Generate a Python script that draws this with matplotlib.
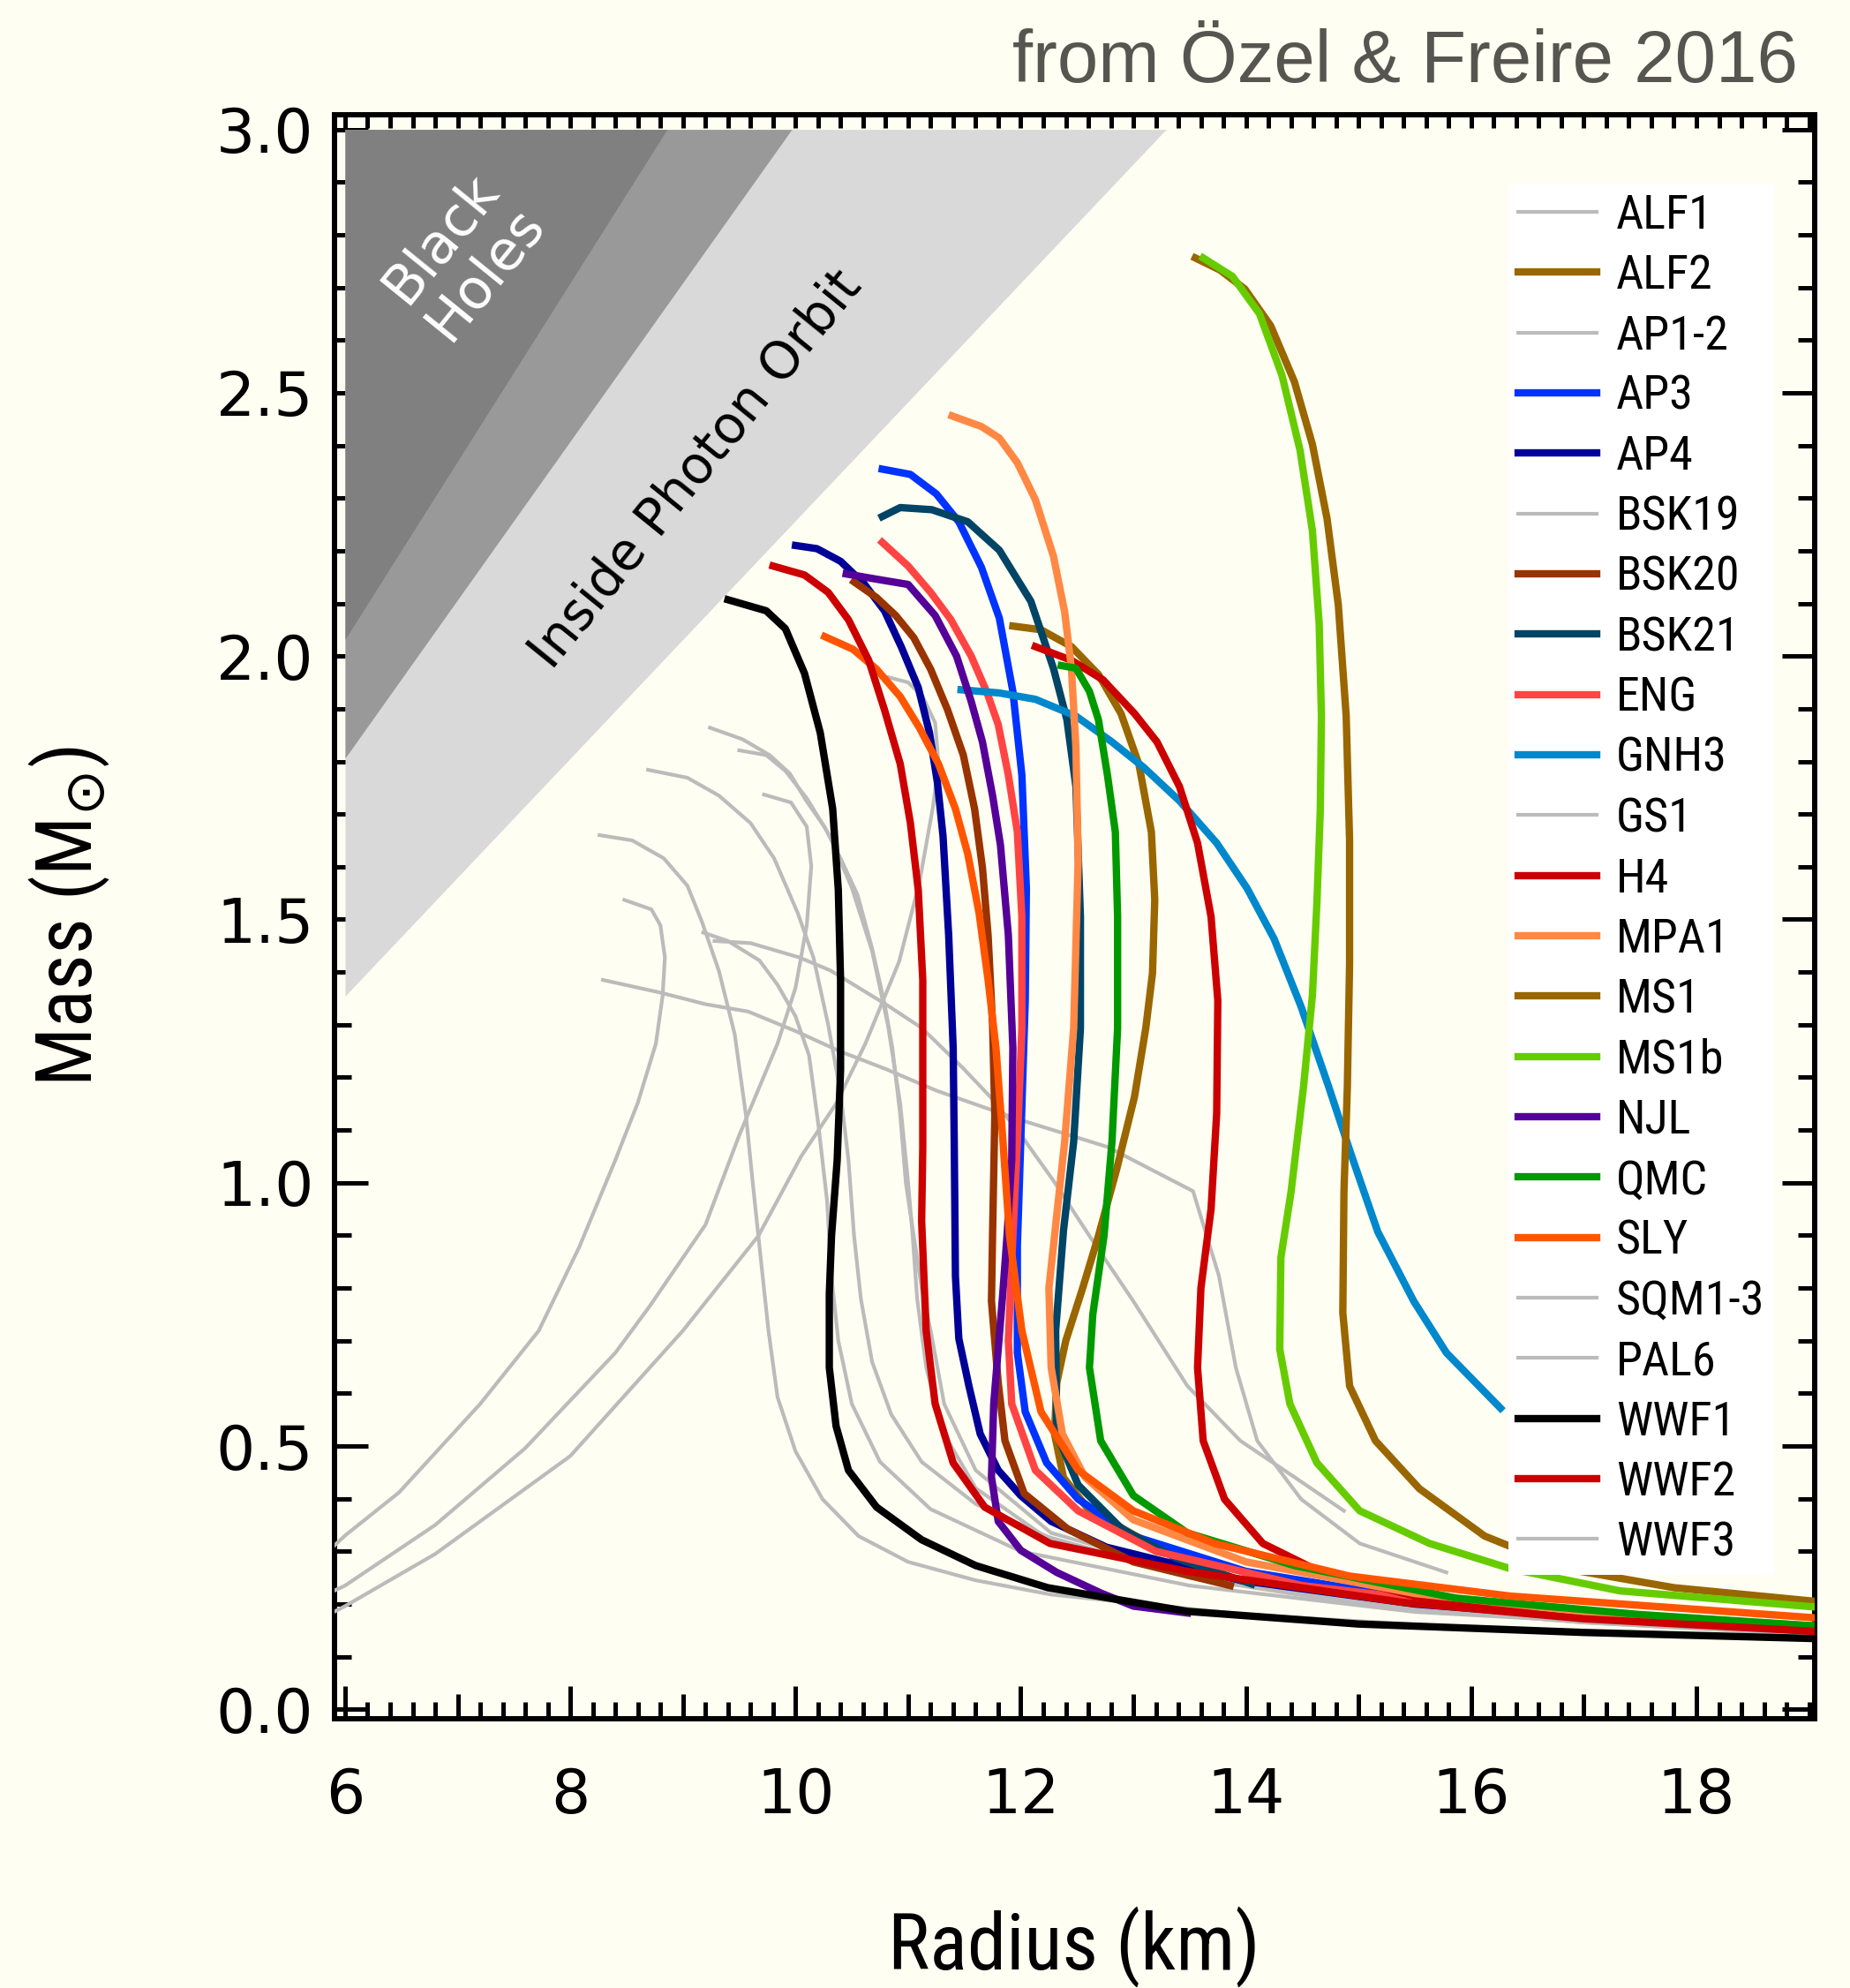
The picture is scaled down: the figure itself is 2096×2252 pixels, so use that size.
import numpy as np
import matplotlib
matplotlib.use('Agg')
import matplotlib.pyplot as plt
from matplotlib import font_manager
from matplotlib.ticker import MultipleLocator, FormatStrFormatter

# ---- data: (radius km, mass Msun) ----
alf1 = [(9.18, 1.475), (9.40, 1.459), (9.68, 1.422), (9.84, 1.376), (10.0, 1.316), (10.12, 1.242),
        (10.20, 1.115), (10.28, 0.966), (10.32, 0.82), (10.38, 0.70), (10.50, 0.58), (10.75, 0.47),
        (11.2, 0.38), (12.0, 0.30), (13.5, 0.235), (15.5, 0.185), (19.3, 0.14)]
ap1 = [(8.26, 1.66), (8.55, 1.65), (8.83, 1.616), (9.04, 1.564), (9.17, 1.495), (9.32, 1.402),
       (9.46, 1.282), (9.56, 1.128), (9.62, 1.0), (9.67, 0.899), (9.76, 0.719), (9.84, 0.593),
       (10.0, 0.49), (10.24, 0.399), (10.56, 0.329), (11.0, 0.28), (11.60, 0.245), (12.27, 0.218),
       (14.0, 0.18), (16.0, 0.155), (19.3, 0.132)]
ap2 = [(8.69, 1.784), (9.04, 1.769), (9.32, 1.735), (9.60, 1.683), (9.81, 1.616), (10.02, 1.512),
       (10.16, 1.427), (10.29, 1.30), (10.40, 1.17), (10.47, 1.043), (10.52, 0.899), (10.58, 0.78),
       (10.68, 0.66), (10.85, 0.56), (11.12, 0.47), (11.6, 0.39), (12.27, 0.325), (13.5, 0.255),
       (15.0, 0.20), (17.0, 0.165), (19.3, 0.138)]
bsk19 = [(9.24, 1.864), (9.53, 1.842), (9.77, 1.812), (9.95, 1.777), (10.09, 1.727), (10.26, 1.675),
         (10.40, 1.616), (10.55, 1.547), (10.68, 1.445), (10.79, 1.341), (10.86, 1.256), (10.93, 1.128),
         (10.98, 0.999), (11.05, 0.899), (11.12, 0.80), (11.2, 0.719), (11.32, 0.58), (11.6, 0.454),
         (12.27, 0.335), (13.5, 0.26), (15.0, 0.205), (17.0, 0.17), (19.3, 0.142)]
gs1 = [(9.28, 1.459), (9.6, 1.455), (10.03, 1.428), (10.31, 1.403), (10.80, 1.339), (11.12, 1.294),
       (11.49, 1.217), (11.73, 1.163), (11.97, 1.10), (12.29, 1.004), (12.61, 0.899), (13.0, 0.775),
       (13.48, 0.614), (13.95, 0.51), (14.43, 0.441), (14.87, 0.377)]
sqm1 = [(5.9, 0.31), (6.0, 0.33), (6.48, 0.412), (7.20, 0.58), (7.72, 0.719), (8.08, 0.878),
        (8.40, 1.043), (8.60, 1.152), (8.76, 1.264), (8.82, 1.355), (8.84, 1.428), (8.80, 1.489),
        (8.72, 1.519), (8.48, 1.537)]
sqm2 = [(5.9, 0.225), (6.0, 0.235), (6.80, 0.35), (7.60, 0.496), (8.40, 0.677), (8.70, 0.764),
        (9.20, 0.92), (9.5, 1.09), (9.84, 1.264), (10.0, 1.37), (10.10, 1.489), (10.14, 1.601),
        (10.10, 1.676), (9.96, 1.722), (9.72, 1.737)]
sqm3 = [(5.9, 0.185), (6.0, 0.196), (6.8, 0.295), (8.0, 0.481), (9.0, 0.719), (9.67, 0.899),
        (10.05, 1.05), (10.36, 1.15), (10.62, 1.264), (10.92, 1.42), (11.1, 1.57), (11.22, 1.713),
        (11.27, 1.795), (11.24, 1.873), (11.13, 1.923), (11.0, 1.95), (10.82, 1.96)]
pal6 = [(8.29, 1.385), (8.80, 1.361), (9.20, 1.339), (9.58, 1.325), (10.0, 1.288), (10.40, 1.249),
        (10.80, 1.216), (11.25, 1.175), (11.97, 1.121), (12.77, 1.068), (13.53, 0.984), (13.76, 0.823),
        (13.91, 0.649), (14.10, 0.51), (14.49, 0.399), (15.01, 0.315), (15.78, 0.26)]
wwf3 = [(9.50, 1.821), (9.74, 1.812), (9.91, 1.782), (10.10, 1.73), (10.30, 1.66), (10.50, 1.56),
        (10.68, 1.44), (10.82, 1.30), (10.93, 1.15), (11.0, 1.0), (11.04, 0.9), (11.08, 0.78),
        (11.16, 0.65), (11.3, 0.53), (11.6, 0.42), (12.2, 0.33), (13.5, 0.25), (15.0, 0.20),
        (17.0, 0.165), (19.3, 0.14)]

alf2 = [(11.93, 2.057), (12.18, 2.05), (12.45, 2.018), (12.69, 1.965), (12.89, 1.891), (13.05, 1.794),
        (13.16, 1.666), (13.19, 1.537), (13.17, 1.398), (13.11, 1.293), (13.01, 1.163), (12.85, 1.024),
        (12.69, 0.899), (12.55, 0.80), (12.40, 0.70), (12.32, 0.62), (12.30, 0.523), (12.38, 0.44),
        (12.6, 0.38), (13.1, 0.32), (14.0, 0.26), (15.5, 0.21), (17.0, 0.18), (19.3, 0.155)]
ap3 = [(10.77, 2.355), (11.02, 2.345), (11.25, 2.308), (11.45, 2.255), (11.65, 2.169), (11.81, 2.072),
       (11.93, 1.933), (12.01, 1.774), (12.05, 1.559), (12.04, 1.346), (12.0, 1.078), (11.97, 0.88),
       (11.97, 0.677), (12.04, 0.565), (12.23, 0.468), (12.51, 0.399), (13.0, 0.329), (14.0, 0.262),
       (15.5, 0.21), (17.0, 0.18), (19.3, 0.152)]
ap4 = [(10.0, 2.21), (10.19, 2.204), (10.40, 2.18), (10.61, 2.137), (10.79, 2.086), (10.94, 2.017),
       (11.09, 1.94), (11.19, 1.854), (11.26, 1.76), (11.31, 1.658), (11.36, 1.47), (11.40, 1.256),
       (11.41, 1.066), (11.42, 0.823), (11.45, 0.704), (11.54, 0.614), (11.64, 0.523), (11.80, 0.454),
       (12.0, 0.406), (12.27, 0.357), (12.76, 0.308), (13.95, 0.245), (15.5, 0.20), (17.0, 0.175),
       (19.3, 0.15)]
bsk20 = [(10.52, 2.141), (10.72, 2.111), (10.89, 2.077), (11.05, 2.035), (11.20, 1.975), (11.35, 1.898),
         (11.49, 1.812), (11.59, 1.71), (11.66, 1.598), (11.71, 1.47), (11.75, 1.30), (11.77, 1.128),
         (11.75, 0.905), (11.74, 0.775), (11.80, 0.62), (11.86, 0.51), (12.03, 0.41), (12.42, 0.342),
         (13.0, 0.28), (13.86, 0.235)]
bsk21 = [(10.77, 2.265), (10.93, 2.282), (11.21, 2.278), (11.53, 2.255), (11.81, 2.201), (12.09, 2.104),
         (12.29, 1.977), (12.41, 1.879), (12.49, 1.752), (12.53, 1.505), (12.53, 1.293), (12.47, 1.078),
         (12.38, 0.91), (12.31, 0.719), (12.32, 0.523), (12.51, 0.426), (12.90, 0.342), (13.38, 0.287),
         (14.05, 0.238)]
eng = [(10.77, 2.216), (11.0, 2.171), (11.20, 2.121), (11.38, 2.069), (11.56, 2.0), (11.70, 1.931),
       (11.80, 1.87), (11.89, 1.774), (11.97, 1.666), (12.01, 1.505), (12.01, 1.293), (11.97, 1.078),
       (11.92, 0.85), (11.89, 0.70), (11.92, 0.58), (12.13, 0.454), (12.51, 0.377), (13.2, 0.30),
       (14.5, 0.235), (16.5, 0.185), (19.3, 0.15)]
gnh3 = [(11.47, 1.936), (11.81, 1.93), (12.13, 1.918), (12.49, 1.886), (12.81, 1.837), (13.09, 1.789),
        (13.41, 1.725), (13.74, 1.645), (14.01, 1.559), (14.25, 1.463), (14.49, 1.334), (14.73, 1.185),
        (14.93, 1.056), (15.17, 0.907), (15.49, 0.775), (15.78, 0.677), (16.26, 0.572)]
h4 = [(12.13, 2.018), (12.45, 1.992), (12.73, 1.955), (13.01, 1.891), (13.21, 1.837), (13.41, 1.752),
      (13.57, 1.645), (13.69, 1.505), (13.75, 1.346), (13.74, 1.132), (13.69, 0.95), (13.60, 0.80),
      (13.57, 0.649), (13.62, 0.51), (13.81, 0.399), (14.15, 0.315), (14.67, 0.26), (15.5, 0.215),
      (17.0, 0.18), (19.3, 0.15)]
mpa1 = [(11.39, 2.456), (11.65, 2.436), (11.81, 2.414), (11.97, 2.367), (12.13, 2.297), (12.29, 2.19),
        (12.39, 2.084), (12.45, 1.977), (12.49, 1.827), (12.51, 1.613), (12.47, 1.293), (12.39, 1.078),
        (12.30, 0.899), (12.25, 0.80), (12.27, 0.649), (12.37, 0.523), (12.57, 0.441), (13.0, 0.36),
        (14.0, 0.28), (15.5, 0.22), (17.0, 0.185), (19.3, 0.155)]
ms1 = [(13.55, 2.756), (13.77, 2.733), (13.99, 2.697), (14.22, 2.627), (14.43, 2.521), (14.59, 2.402),
       (14.72, 2.261), (14.82, 2.097), (14.89, 1.886), (14.92, 1.65), (14.92, 1.415), (14.90, 1.18),
       (14.87, 0.982), (14.86, 0.753), (14.92, 0.614), (15.15, 0.51), (15.54, 0.419), (16.12, 0.329),
       (16.84, 0.267), (17.80, 0.231), (19.3, 0.20)]
ms1b = [(13.62, 2.756), (13.88, 2.721), (14.12, 2.65), (14.32, 2.533), (14.48, 2.391), (14.59, 2.238),
        (14.65, 2.062), (14.67, 1.886), (14.66, 1.708), (14.63, 1.532), (14.59, 1.356), (14.51, 1.18),
        (14.40, 0.982), (14.31, 0.858), (14.30, 0.684), (14.39, 0.58), (14.63, 0.468), (15.01, 0.377),
        (15.63, 0.315), (16.35, 0.267), (17.32, 0.225), (19.3, 0.19)]
njl = [(10.45, 2.156), (10.72, 2.146), (11.0, 2.136), (11.24, 2.077), (11.43, 2.0), (11.56, 1.914),
       (11.66, 1.837), (11.75, 1.735), (11.82, 1.641), (11.89, 1.47), (11.93, 1.256), (11.92, 1.043),
       (11.88, 0.905), (11.84, 0.788), (11.76, 0.58), (11.74, 0.441), (11.80, 0.357), (12.0, 0.302),
       (12.32, 0.26), (12.71, 0.221), (13.0, 0.196), (13.48, 0.183)]
qmc = [(12.36, 1.982), (12.49, 1.977), (12.61, 1.933), (12.69, 1.879), (12.77, 1.774), (12.84, 1.666),
       (12.86, 1.505), (12.86, 1.293), (12.81, 1.078), (12.74, 0.90), (12.64, 0.75), (12.61, 0.649),
       (12.71, 0.51), (13.0, 0.406), (13.48, 0.335), (14.43, 0.273), (15.87, 0.211), (17.5, 0.18),
       (19.3, 0.155)]
sly = [(10.26, 2.037), (10.51, 2.013), (10.72, 1.975), (10.93, 1.923), (11.10, 1.864), (11.27, 1.795),
       (11.42, 1.71), (11.53, 1.624), (11.63, 1.512), (11.71, 1.385), (11.78, 1.256), (11.84, 1.085),
       (11.90, 0.90), (12.01, 0.719), (12.18, 0.565), (12.51, 0.454), (13.0, 0.377), (13.72, 0.315),
       (14.92, 0.253), (16.35, 0.215), (19.3, 0.17)]
wwf1 = [(9.40, 2.107), (9.74, 2.086), (9.91, 2.052), (10.08, 1.967), (10.22, 1.854), (10.33, 1.71),
        (10.38, 1.556), (10.40, 1.385), (10.40, 1.214), (10.37, 1.043), (10.32, 0.90), (10.30, 0.788),
        (10.30, 0.649), (10.36, 0.538), (10.47, 0.454), (10.72, 0.384), (11.12, 0.322), (11.60, 0.273),
        (12.24, 0.231), (13.48, 0.186), (15.0, 0.162), (17.0, 0.146), (19.3, 0.133)]
wwf2 = [(9.80, 2.171), (10.08, 2.154), (10.29, 2.121), (10.47, 2.069), (10.65, 1.992), (10.79, 1.898),
        (10.93, 1.795), (11.02, 1.683), (11.09, 1.556), (11.13, 1.385), (11.13, 1.214), (11.13, 1.066),
        (11.12, 0.927), (11.16, 0.719), (11.24, 0.58), (11.40, 0.468), (11.68, 0.384), (12.26, 0.315),
        (13.48, 0.262), (15.40, 0.203), (17.0, 0.172), (19.3, 0.145)]

legend_order = ['ALF1', 'ALF2', 'AP1-2', 'AP3', 'AP4', 'BSK19', 'BSK20', 'BSK21', 'ENG', 'GNH3',
                'GS1', 'H4', 'MPA1', 'MS1', 'MS1b', 'NJL', 'QMC', 'SLY', 'SQM1-3', 'PAL6',
                'WWF1', 'WWF2', 'WWF3']

GREY = '#BBBBBB'
BG = '#FFFEF2'

names = {f.name for f in font_manager.fontManager.ttflist}
narrow = next((n for n in ['Liberation Sans Narrow', 'Roboto Condensed', 'DejaVu Sans Condensed',
                           'Open Sans Condensed'] if n in names), 'DejaVu Sans')

plt.rcParams['font.family'] = 'DejaVu Sans'
plt.rcParams['mathtext.fontset'] = 'dejavusans'

fig = plt.figure(figsize=(20.96, 22.52), dpi=100, facecolor=BG)
ax = fig.add_axes([0.1808, 0.1354, 0.8001, 0.8069])
ax.set_facecolor(BG)

# forbidden regions: photon orbit, Buchdahl limit, black holes
r = np.linspace(6, 13.6, 400)
ax.fill_between(r, np.minimum(r / 4.43, 3.0), 3.0, color='#D9D9D9', lw=0, zorder=3)
ax.fill_between(r, np.minimum(r / 3.322, 3.0), 3.0, color='#999999', lw=0, zorder=3)
ax.fill_between(r, np.minimum(r / 2.953, 3.0), 3.0, color='#808080', lw=0, zorder=3)

ax.text(7.05, 2.76, 'Black\nHoles', rotation=51, ha='center', va='center', color='white',
        fontsize=45, linespacing=1.1, zorder=3.5)
ax.text(9.12, 2.353, 'Inside Photon Orbit', rotation=51, ha='center', va='center', color='black',
        fontsize=42, zorder=3.5)

grey_curves = [('ALF1', alf1), ('AP1-2', ap1), (None, ap2), ('BSK19', bsk19), ('GS1', gs1),
               ('SQM1-3', sqm1), (None, sqm2), (None, sqm3), ('PAL6', pal6), ('WWF3', wwf3)]
colour_curves = [('ALF2', alf2, '#996600'), ('AP3', ap3, '#0033FF'), ('AP4', ap4, '#000099'),
                 ('BSK20', bsk20, '#993300'), ('BSK21', bsk21, '#004466'), ('ENG', eng, '#FF4444'),
                 ('GNH3', gnh3, '#0088CC'), ('H4', h4, '#CC0000'), ('MPA1', mpa1, '#FF8844'),
                 ('MS1', ms1, '#996600'), ('MS1b', ms1b, '#66CC00'), ('NJL', njl, '#550099'),
                 ('QMC', qmc, '#009900'), ('SLY', sly, '#FF5500'), ('WWF1', wwf1, '#000000'),
                 ('WWF2', wwf2, '#CC0000')]

handles = {}
for name, pts in grey_curves:
    rr, mm = zip(*pts)
    ln, = ax.plot(rr, mm, color=GREY, lw=3, zorder=4, solid_joinstyle='round')
    if name:
        handles[name] = ln
for name, pts, col in colour_curves:
    rr, mm = zip(*pts)
    ln, = ax.plot(rr, mm, color=col, lw=6, zorder=4, solid_joinstyle='round')
    handles[name] = ln

leg = ax.legend([handles[n] for n in legend_order], legend_order, loc='upper left',
                bbox_to_anchor=(0.793, 0.957), borderaxespad=0,
                prop={'family': narrow, 'size': 39},
                handlelength=1.65, handletextpad=0.4, labelspacing=0.32, borderpad=0.2,
                frameon=True, fancybox=False, facecolor='white', edgecolor='none', framealpha=1)
leg.set_zorder(6)

ax.set_xlim(5.906, 19.05)
ax.set_ylim(-0.018, 3.028)
ax.xaxis.set_major_locator(MultipleLocator(2))
ax.xaxis.set_minor_locator(MultipleLocator(0.2))
ax.yaxis.set_major_locator(MultipleLocator(0.5))
ax.yaxis.set_minor_locator(MultipleLocator(0.1))
ax.yaxis.set_major_formatter(FormatStrFormatter('%.1f'))
ax.tick_params(which='both', direction='in', top=False, right=True, width=3.6, labelsize=50)
ax.tick_params(which='major', length=27)
ax.tick_params(which='minor', length=14)
ax.tick_params(axis='x', pad=39)
ax.tick_params(axis='y', pad=17)
for s in ax.spines.values():
    s.set_linewidth(4.3)

# medium ticks at odd km along the bottom
sec = ax.secondary_xaxis('bottom')
sec.set_xticks(np.arange(7, 19, 2))
sec.tick_params(direction='in', length=20, width=3.6, labelbottom=False)
sec.spines['bottom'].set_linewidth(4.3)

# uniform short ticks along the top
sec_top = ax.secondary_xaxis('top')
sec_top.set_xticks(np.arange(6, 19.01, 0.2))
sec_top.tick_params(direction='in', length=11, width=3.6, labeltop=False)
sec_top.spines['top'].set_linewidth(4.3)

fig.text(0.5806, 0.0092, 'Radius (km)', ha='center', va='baseline', fontsize=64, family=narrow)
fig.text(0.0493, 0.539, r'Mass (M$_{\odot}$)', ha='center', va='baseline', rotation=90,
         rotation_mode='anchor', fontsize=64, family=narrow)

fig.text(0.9719, 0.9587, 'from Özel & Freire 2016', ha='right', va='baseline',
         fontsize=60, color='#575550', family='Liberation Sans')

fig.savefig('out.png', dpi=100, facecolor=BG)
